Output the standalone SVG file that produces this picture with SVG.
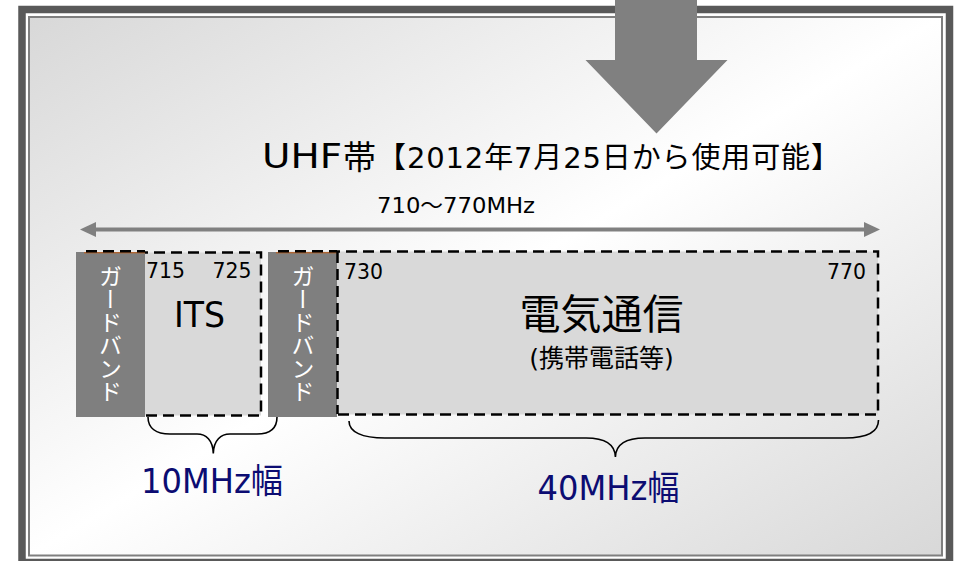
<svg xmlns="http://www.w3.org/2000/svg" width="957" height="561" viewBox="0 0 957 561">
<defs>
<linearGradient id="bg" x1="0" y1="0" x2="1" y2="1">
<stop offset="0" stop-color="#d8d8d8"/>
<stop offset="0.5" stop-color="#ffffff"/>
<stop offset="1" stop-color="#d8d8d8"/>
</linearGradient>
<style>
text{font-family:"DejaVu Sans","Noto Sans CJK JP",sans-serif;fill:#000}
.jp{font-family:"Noto Sans CJK JP",sans-serif}
.band{fill:#d9d9d9;stroke:#000;stroke-width:2.5;stroke-dasharray:11 6}
.dash{fill:none;stroke:#000;stroke-width:2.5;stroke-dasharray:11 6}
.guard{fill:#7f7f7f}
.seam{stroke:#c55a11;stroke-width:1}
.gtext{fill:#fff;font-size:23px;writing-mode:vertical-rl;font-family:"Noto Sans CJK JP",sans-serif;text-anchor:middle}
.brace{fill:none;stroke:#000;stroke-width:1.6}
.width{fill:#0c0c72;font-size:34px}
.num{font-size:22px}
.gray{fill:#808080}
</style>
</defs>
<rect width="957" height="561" fill="#fff"/>
<g id="frame">
<rect x="22" y="9.5" width="927.5" height="553" fill="none" stroke="#595959" stroke-width="7.5"/>
<rect x="29" y="17" width="913" height="538.5" fill="url(#bg)" stroke="#7f7f7f" stroke-width="2"/>
</g>
<g id="title">
<text x="262" y="168" font-size="33" textLength="80" lengthAdjust="spacingAndGlyphs">UHF</text>
<text class="jp" x="343" y="169" font-size="33">帯</text>
<text x="377" y="168" font-size="29" textLength="463" lengthAdjust="spacing">【2012年7月25日から使用可能】</text>
</g>
<g id="range">
<line x1="92" y1="229.5" x2="868" y2="229.5" stroke="#808080" stroke-width="4"/>
<polygon class="gray" points="80,229.5 96,222 96,237"/>
<polygon class="gray" points="880,229.5 864,222 864,237"/>
<text x="377" y="213" font-size="22" textLength="158" lengthAdjust="spacingAndGlyphs">710〜770MHz</text>
</g>
<g id="its">
<rect class="band" x="86" y="252.5" width="175" height="163"/>
<text x="174" y="327" font-size="36" textLength="51" lengthAdjust="spacingAndGlyphs">ITS</text>
<text class="num" x="146" y="277.5" textLength="39" lengthAdjust="spacingAndGlyphs">715</text>
<text class="num" x="212.5" y="277.5" textLength="39" lengthAdjust="spacingAndGlyphs">725</text>
</g>
<g id="guard1">
<rect class="guard" x="76" y="252" width="69" height="165"/>
<line class="seam" x1="84" y1="252.8" x2="145" y2="252.8"/>
<line class="dash" x1="86" y1="251.2" x2="145" y2="251.2"/>
<text class="gtext" x="110.5" y="334">ガードバンド</text>
</g>
<g id="telecom">
<rect class="band" x="278" y="251.5" width="600" height="163"/>
<text class="jp" x="601.5" y="329" font-size="41" text-anchor="middle">電気通信</text>
<text x="601.5" y="367" font-size="25" text-anchor="middle">(携帯電話等)</text>
<text class="num" x="344" y="279" textLength="39" lengthAdjust="spacingAndGlyphs">730</text>
<text class="num" x="827" y="279" textLength="39" lengthAdjust="spacingAndGlyphs">770</text>
</g>
<g id="guard2">
<rect class="guard" x="268" y="252" width="69" height="165"/>
<line class="seam" x1="276" y1="252.8" x2="337" y2="252.8"/>
<line class="dash" x1="278" y1="251.2" x2="337" y2="251.2"/>
<line class="dash" x1="337.5" y1="252" x2="337.5" y2="414"/>
<text class="gtext" x="303" y="334">ガードバンド</text>
</g>
<g id="connectors">
<path class="brace" d="M148,417 C148,428 156,434 170,434 L197,434 C206,434 213,440 213.3,453.5 C213.6,440 221,434 230,434 L257,434 C270,434 277,428 277,417"/>
<path class="brace" d="M349,421 C349,432 362,438 385,438 L586,438 C604,438 615,444 615.4,457 C615.8,444 627,438 645,438 L845,438 C868,438 878.5,432 878.5,420"/>
</g>
<g id="labels">
<text class="width" x="141" y="493" textLength="142" lengthAdjust="spacingAndGlyphs">10MHz幅</text>
<text class="width" x="537.5" y="499.5" textLength="142" lengthAdjust="spacingAndGlyphs">40MHz幅</text>
</g>
<g id="down-arrow">
<polygon class="gray" points="615,-2 697,-2 697,60 727.5,60 656.5,133.5 585.5,60 615,60"/>
</g>
</svg>
